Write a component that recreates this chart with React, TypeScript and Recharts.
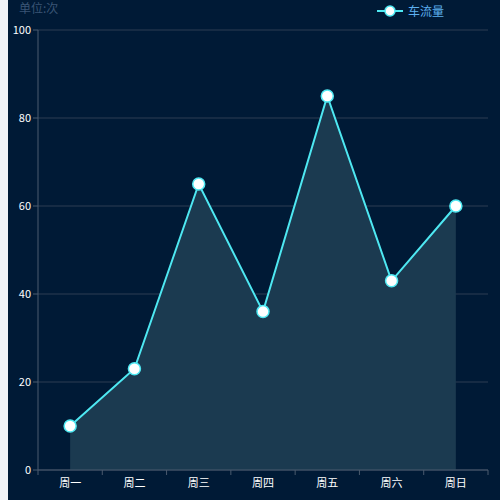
import React from "react";
import { AreaChart, Area, XAxis, YAxis, CartesianGrid } from "recharts";

const days = ["周一", "周二", "周三", "周四", "周五", "周六", "周日"];
const traffic = [10, 23, 65, 36, 85, 43, 60];
const yTicks = [0, 20, 40, 60, 80, 100];
const seriesName = "车流量";
const unitLabel = "单位:次";

const data = days.map((d, i) => ({ day: d, value: traffic[i] }));

const BG = "#001a36";
const LINE = "#4ee8f2";
const AXIS = "#4a5a6e";
const FONT = '"Noto Sans CJK SC", "Noto Sans", sans-serif';
const PLOT_W = 450;
const HALF_BAND = PLOT_W / days.length / 2;

if (typeof document !== "undefined") {
  document.body.style.background = "#f1f3f7";
}

const XTick = (props: any) => {
  const { x, y, payload, index, visibleTicksCount } = props;
  return (
    <g>
      <line x1={x - HALF_BAND} y1={y - 8} x2={x - HALF_BAND} y2={y - 3} stroke={AXIS} />
      {index === visibleTicksCount - 1 && (
        <line x1={x + HALF_BAND} y1={y - 8} x2={x + HALF_BAND} y2={y - 3} stroke={AXIS} />
      )}
      <text x={x} y={y + 9} textAnchor="middle" fill="#ffffff" fontSize={11} fontFamily={FONT}>
        {payload.value}
      </text>
    </g>
  );
};

const LegendBox = () => (
  <div
    style={{
      position: "absolute",
      left: 369,
      top: 2,
      display: "flex",
      alignItems: "center",
      fontFamily: FONT,
      fontSize: 12,
      color: "#5db0f0",
      zIndex: 2,
    }}
  >
    <svg width={26} height={14} style={{ marginRight: 5 }}>
      <line x1={0} y1={7} x2={26} y2={7} stroke={LINE} strokeWidth={2} />
      <circle cx={13} cy={7} r={5} fill="#ffffff" stroke={LINE} strokeWidth={1.5} />
    </svg>
    <span>{seriesName}</span>
  </div>
);

export default function App() {
  return (
    <div style={{ position: "absolute", left: 8, top: 0, width: 492, height: 500, background: BG }}>
      <div
        style={{
          position: "absolute",
          left: 11,
          top: -1,
          fontFamily: FONT,
          fontSize: 12,
          color: "#3a5575",
          zIndex: 2,
        }}
      >
        {unitLabel}
      </div>
      <LegendBox />
      <AreaChart width={492} height={500} data={data} margin={{ top: 30, right: 12, bottom: 0, left: 0 }}>
        <CartesianGrid vertical={false} stroke="#2c3c52" />
        <XAxis
          dataKey="day"
          height={30}
          axisLine={{ stroke: AXIS }}
          tickLine={false}
          tick={<XTick />}
          interval={0}
          padding={{ left: HALF_BAND, right: HALF_BAND }}
        />
        <YAxis
          width={30}
          domain={[0, 100]}
          ticks={yTicks}
          axisLine={{ stroke: AXIS }}
          tickLine={{ stroke: AXIS }}
          tickSize={5}
          tick={{ fill: "#ffffff", fontSize: 11, fontFamily: FONT }}
        />
        <Area
          type="linear"
          dataKey="value"
          name={seriesName}
          stroke={LINE}
          strokeWidth={2}
          fill="#1b3a50"
          fillOpacity={1}
          dot={{ r: 6, fill: "#ffffff", stroke: LINE, strokeWidth: 1.5 }}
          activeDot={false}
          isAnimationActive={false}
        />
      </AreaChart>
    </div>
  );
}
